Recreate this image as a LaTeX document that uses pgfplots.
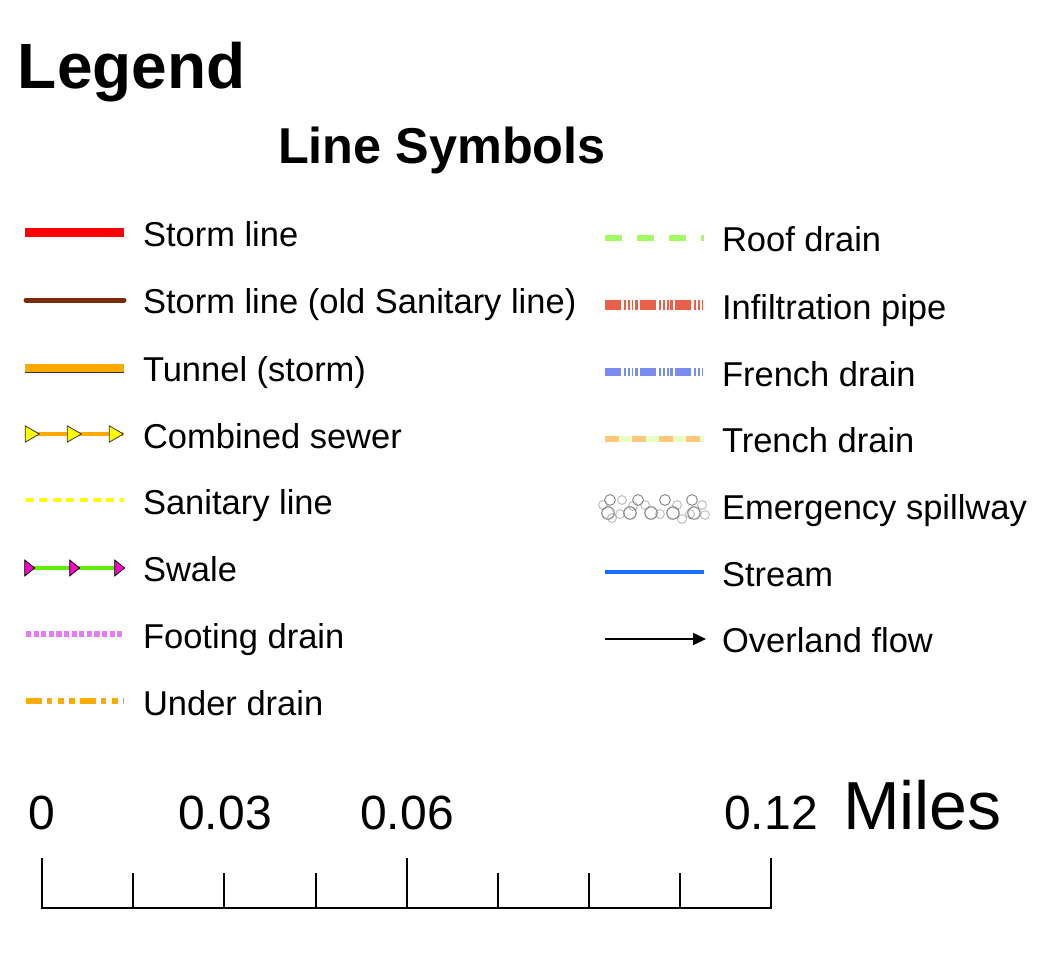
\documentclass[border=0pt]{standalone}
\usepackage{pgfplots}
\pgfplotsset{compat=1.18}
\usetikzlibrary{arrows.meta}
\usepackage{fontspec}
\setmainfont{Liberation Sans}
\definecolor{cred}{HTML}{FF0000}
\definecolor{cbrown}{HTML}{782C0A}
\definecolor{corange}{HTML}{FFAA00}
\definecolor{cborder}{HTML}{333333}
\definecolor{cyellow}{HTML}{FFFF00}
\definecolor{cgreen}{HTML}{5CF000}
\definecolor{cmagenta}{HTML}{FF00CC}
\definecolor{cfooting}{HTML}{E47CF6}
\definecolor{croof}{HTML}{A0FF60}
\definecolor{cinfil}{HTML}{E8604A}
\definecolor{cfrench}{HTML}{7B8CF0}
\definecolor{ctrencho}{HTML}{FFC878}
\definecolor{ctrenchg}{HTML}{E8FFC4}
\definecolor{cstream}{HTML}{1A6EFF}
\newcommand{\fs}[1]{\fontsize{#1}{#1}\selectfont}
\tikzset{lbl/.style={inner sep=0pt, outer sep=0pt, anchor=base west}, clbl/.style={inner sep=0pt, outer sep=0pt, anchor=base}}
\begin{document}
\begin{tikzpicture}
\useasboundingbox (0,0) rectangle (519pt,484pt);
\begin{axis}[
  at={(0,0)}, anchor=south west,
  scale only axis, width=519pt, height=484pt,
  xmin=0, xmax=1038, ymin=0, ymax=968, y dir=reverse,
  hide axis, clip=false,
]
% titles
\node[lbl] at (axis cs:18,89) {\fs{32}\bfseries Legend};
\node[lbl] at (axis cs:278,164) {\fs{25.2}\bfseries Line Symbols};
% left column labels
\node[lbl] at (axis cs:143,247) {\fs{17.25}Storm line};
\node[lbl] at (axis cs:143,314) {\fs{17.25}Storm line (old Sanitary line)};
\node[lbl] at (axis cs:143,381) {\fs{17.25}Tunnel (storm)};
\node[lbl] at (axis cs:143,448) {\fs{17.25}Combined sewer};
\node[lbl] at (axis cs:143,514) {\fs{17.25}Sanitary line};
\node[lbl] at (axis cs:143,581) {\fs{17.25}Swale};
\node[lbl] at (axis cs:143,648) {\fs{17.25}Footing drain};
\node[lbl] at (axis cs:143,715) {\fs{17.25}Under drain};
% right column labels
\node[lbl] at (axis cs:722,252) {\fs{17.25}Roof drain};
\node[lbl] at (axis cs:722,319) {\fs{17.25}Infiltration pipe};
\node[lbl] at (axis cs:722,386) {\fs{17.25}French drain};
\node[lbl] at (axis cs:722,452) {\fs{17.25}Trench drain};
\node[lbl] at (axis cs:722,519) {\fs{17.25}Emergency spillway};
\node[lbl] at (axis cs:722,586) {\fs{17.25}Stream};
\node[lbl] at (axis cs:722,652) {\fs{17.25}Overland flow};
% left symbols
\addplot[cred, line width=4.5pt] coordinates {(25,233)(124,233)};
\addplot[cbrown, line width=2.5pt, line cap=round] coordinates {(26,300)(124,300)};
\addplot[cborder, line width=4.5pt] coordinates {(25,368)(124,368)};
\addplot[corange, line width=3.6pt] coordinates {(25,368)(124,368)};
\addplot[corange, line width=2pt] coordinates {(25,434)(123,434)};
\addplot[only marks, mark=triangle*, mark size=4.7pt,
  mark options={rotate=-90, fill=cyellow, draw=cborder, line width=0.4pt}]
  coordinates {(30,434)(72,434)(114,434)};
\addplot[cyellow, line width=1.6pt, dash pattern=on 4pt off 2.7pt] coordinates {(26,500)(124,500)};
\addplot[cgreen, line width=2pt] coordinates {(25,568)(123,568)};
\addplot[only marks, mark=triangle*, mark size=4.6pt,
  mark options={xscale=0.72, rotate=-90, fill=cmagenta, draw=none}]
  coordinates {(28,568)(73,568)(118,568)};
\addplot[cfooting, line width=2.6pt, dash pattern=on 2.6pt off 1.2pt] coordinates {(26,634)(124,634)};
\addplot[corange, line width=2.6pt, dash pattern=on 8pt off 2.5pt on 2.5pt off 3pt on 3pt off 2.5pt on 3pt off 2.5pt] coordinates {(26,701)(124,701)};
% right symbols
\addplot[croof, line width=2.6pt, dash pattern=on 8.5pt off 7.5pt] coordinates {(605,238)(704,238)};
\addplot[cinfil, line width=5pt, dash pattern=on 8pt off 1.5pt on 1pt off 0.85pt on 1.15pt off 0.85pt on 0.85pt off 0.85pt on 1.35pt off 1.15pt] coordinates {(605,305)(702,305)};
\addplot[cfrench, line width=4pt, dash pattern=on 8pt off 1.5pt on 1pt off 0.85pt on 1.15pt off 0.85pt on 0.85pt off 0.85pt on 1.35pt off 1.15pt] coordinates {(605,372)(702,372)};
\addplot[ctrenchg, line width=3pt] coordinates {(605,439)(704,439)};
\addplot[ctrencho, line width=3pt, dash pattern=on 7pt off 6.5pt] coordinates {(605,439)(704,439)};
% emergency spillway circles
\addplot[only marks, mark=o, mark size=2.2pt, mark options={draw=gray!55, line width=0.45pt}]
  coordinates {(603,505)(622,500)(620,514)(645,505)(660,514)(677,505)(702,505)(705,515)(633,506)(690,514)(612,518)(682,519)};
\addplot[only marks, mark=o, mark size=2.7pt, mark options={draw=gray!90, line width=0.5pt}]
  coordinates {(610,500)(638,500)(665,500)(692,500)};
\addplot[only marks, mark=o, mark size=3.1pt, mark options={draw=gray!95, line width=0.55pt}]
  coordinates {(608,513)(630,513)(651,513)(673,513)(694,513)};
\addplot[cstream, line width=2pt] coordinates {(605,572)(704,572)};
\addplot[black, line width=0.8pt, -{Triangle[length=6.5pt,width=6pt]}] coordinates {(605,639)(706,639)};
% scale bar
\addplot[black, line width=1.1pt] coordinates {(41.5,908)(771.5,908)};
\addplot[black, line width=1.1pt] coordinates {(42,908.5)(42,858)};
\addplot[black, line width=1.1pt] coordinates {(133,908)(133,873)};
\addplot[black, line width=1.1pt] coordinates {(224,908)(224,873)};
\addplot[black, line width=1.1pt] coordinates {(316,908)(316,873)};
\addplot[black, line width=1.1pt] coordinates {(407,908)(407,858)};
\addplot[black, line width=1.1pt] coordinates {(498,908)(498,873)};
\addplot[black, line width=1.1pt] coordinates {(589,908)(589,873)};
\addplot[black, line width=1.1pt] coordinates {(680,908)(680,873)};
\addplot[black, line width=1.1pt] coordinates {(771,908.5)(771,858)};
\node[clbl] at (axis cs:42,829) {\fs{24}0};
\node[clbl] at (axis cs:225,829) {\fs{24}0.03};
\node[clbl] at (axis cs:407,829) {\fs{24}0.06};
\node[clbl] at (axis cs:771,829) {\fs{24}0.12};
\node[lbl] at (axis cs:843,829) {\fs{34}Miles};
\end{axis}
\end{tikzpicture}
\end{document}
